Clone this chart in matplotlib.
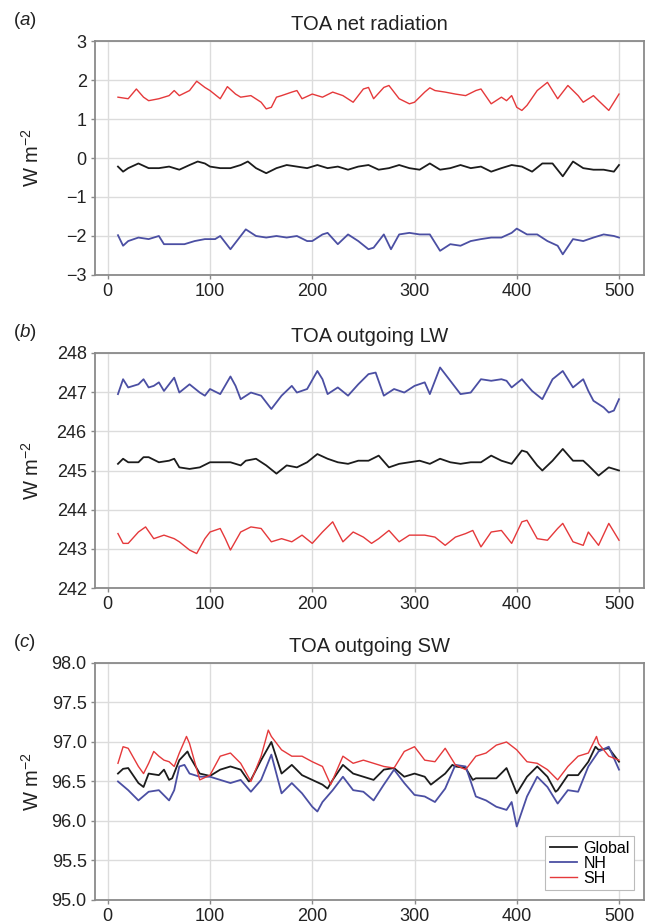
import numpy as np
import matplotlib
matplotlib.use('Agg')
import matplotlib.pyplot as plt

plt.rcParams['font.family'] = ['Liberation Sans', 'DejaVu Sans']
plt.rcParams['mathtext.fontset'] = 'custom'
plt.rcParams['mathtext.rm'] = 'Liberation Sans'
plt.rcParams['mathtext.it'] = 'Liberation Sans:italic'

# (a) TOA net radiation
netYrsGlobal = [10, 15, 20, 30, 40, 50, 60, 70, 80, 88, 95, 100, 110, 120, 130, 137, 145, 155, 165, 175,
                185, 195, 205, 215, 225, 235, 245, 255, 265, 275, 285, 295, 305, 315, 325, 335, 345, 355,
                365, 375, 385, 395, 405, 415, 425, 435, 445, 455, 465, 475, 485, 495, 500]
netGlobal = [-0.22, -0.35, -0.26, -0.14, -0.26, -0.26, -0.22, -0.30, -0.18, -0.09, -0.14, -0.22, -0.26,
             -0.26, -0.18, -0.09, -0.26, -0.39, -0.26, -0.18, -0.22, -0.26, -0.18, -0.26, -0.22, -0.30,
             -0.22, -0.18, -0.30, -0.26, -0.18, -0.26, -0.30, -0.14, -0.30, -0.26, -0.18, -0.26, -0.22,
             -0.35, -0.26, -0.18, -0.22, -0.35, -0.14, -0.14, -0.47, -0.09, -0.26, -0.30, -0.30, -0.35,
             -0.18]
netYrsNH = [10, 15, 20, 30, 40, 50, 55, 65, 75, 85, 95, 105, 110, 120, 125, 135, 145, 155, 165, 175, 185,
            195, 200, 210, 215, 225, 235, 245, 255, 260, 270, 277, 285, 295, 305, 315, 325, 335, 345, 355,
            365, 375, 385, 395, 400, 410, 420, 430, 440, 445, 455, 465, 475, 485, 495, 500]
netNH = [-1.98, -2.25, -2.13, -2.04, -2.08, -2.00, -2.21, -2.21, -2.21, -2.13, -2.08, -2.08, -2.00, -2.34,
         -2.17, -1.83, -2.00, -2.04, -2.00, -2.04, -2.00, -2.13, -2.13, -1.96, -1.92, -2.21, -1.96, -2.13,
         -2.34, -2.30, -1.96, -2.34, -1.96, -1.92, -1.96, -1.96, -2.38, -2.21, -2.25, -2.13, -2.08, -2.04,
         -2.04, -1.92, -1.81, -1.96, -1.96, -2.13, -2.25, -2.47, -2.08, -2.13, -2.04, -1.96, -2.00, -2.04]
netYrsSH = [10, 20, 28, 35, 40, 50, 60, 65, 70, 80, 87, 95, 100, 110, 117, 125, 130, 140, 150, 155, 160,
            165, 170, 180, 185, 190, 200, 210, 220, 230, 240, 250, 255, 260, 270, 275, 285, 295, 300, 310,
            315, 320, 330, 340, 350, 360, 365, 375, 385, 390, 395, 400, 405, 410, 420, 430, 440, 450, 460,
            465, 475, 480, 490, 500]
netSH = [1.56, 1.52, 1.77, 1.56, 1.47, 1.52, 1.60, 1.73, 1.60, 1.73, 1.97, 1.81, 1.73, 1.52, 1.83, 1.64,
         1.56, 1.60, 1.43, 1.26, 1.30, 1.56, 1.60, 1.69, 1.73, 1.52, 1.64, 1.56, 1.69, 1.60, 1.43, 1.77,
         1.81, 1.52, 1.81, 1.86, 1.52, 1.39, 1.43, 1.69, 1.80, 1.73, 1.69, 1.64, 1.60, 1.73, 1.77, 1.39,
         1.56, 1.47, 1.60, 1.30, 1.22, 1.35, 1.73, 1.94, 1.52, 1.86, 1.60, 1.43, 1.60, 1.47, 1.22, 1.64]

# (b) TOA outgoing LW
lwYrsGlobal = [10, 15, 20, 30, 35, 40, 50, 60, 65, 70, 80, 90, 100, 110, 120, 130, 135, 145, 155, 165, 175,
               185, 195, 205, 215, 225, 235, 245, 255, 265, 275, 285, 295, 305, 315, 325, 335, 345, 355,
               365, 375, 385, 395, 405, 410, 420, 425, 435, 445, 455, 465, 470, 480, 490, 500]
lwGlobal = [245.17, 245.30, 245.21, 245.21, 245.34, 245.34, 245.21, 245.25, 245.30, 245.08, 245.04, 245.08,
            245.21, 245.21, 245.21, 245.13, 245.25, 245.30, 245.13, 244.92, 245.13, 245.08, 245.21, 245.42,
            245.30, 245.21, 245.17, 245.25, 245.25, 245.38, 245.08, 245.17, 245.21, 245.25, 245.17, 245.30,
            245.21, 245.17, 245.21, 245.21, 245.38, 245.25, 245.17, 245.51, 245.47, 245.13, 245.00, 245.25,
            245.55, 245.25, 245.25, 245.13, 244.87, 245.08, 245.00]
lwYrsNH = [10, 15, 20, 30, 35, 40, 45, 50, 55, 65, 70, 80, 90, 95, 100, 110, 120, 125, 130, 140, 150, 160,
           170, 180, 185, 195, 205, 210, 215, 225, 235, 245, 255, 262, 270, 280, 290, 300, 310, 315, 325,
           335, 345, 355, 365, 375, 385, 390, 395, 405, 415, 425, 435, 445, 455, 465, 470, 475, 485, 490,
           495, 500]
lwNH = [246.95, 247.33, 247.12, 247.20, 247.33, 247.12, 247.16, 247.25, 247.03, 247.37, 246.99, 247.20,
        246.99, 246.91, 247.08, 246.95, 247.40, 247.16, 246.82, 246.99, 246.91, 246.57, 246.91, 247.16,
        246.99, 247.08, 247.54, 247.33, 246.95, 247.12, 246.91, 247.20, 247.46, 247.50, 246.91, 247.08,
        246.99, 247.16, 247.25, 246.95, 247.63, 247.29, 246.95, 246.99, 247.33, 247.29, 247.33, 247.29,
        247.12, 247.33, 247.03, 246.82, 247.33, 247.54, 247.12, 247.33, 247.03, 246.78, 246.61, 246.48,
        246.53, 246.82]
lwYrsSH = [10, 15, 20, 30, 37, 45, 55, 65, 70, 80, 87, 95, 100, 110, 115, 120, 130, 140, 150, 160, 170,
           180, 190, 200, 210, 220, 230, 240, 250, 258, 265, 275, 285, 295, 310, 320, 330, 340, 350, 357,
           365, 375, 385, 395, 405, 410, 420, 430, 440, 445, 455, 465, 470, 480, 490, 500]
lwSH = [243.39, 243.14, 243.14, 243.43, 243.56, 243.26, 243.35, 243.26, 243.18, 242.97, 242.88, 243.26,
        243.43, 243.52, 243.26, 242.97, 243.43, 243.56, 243.52, 243.18, 243.26, 243.18, 243.35, 243.14,
        243.43, 243.69, 243.18, 243.43, 243.30, 243.14, 243.26, 243.47, 243.18, 243.35, 243.35, 243.30,
        243.09, 243.30, 243.39, 243.47, 243.05, 243.43, 243.47, 243.14, 243.69, 243.73, 243.26, 243.22,
        243.52, 243.65, 243.18, 243.09, 243.43, 243.09, 243.65, 243.22]

# (c) TOA outgoing SW
swYrsGlobal = [10, 15, 20, 30, 35, 40, 50, 55, 60, 63, 70, 78, 80, 90, 100, 110, 120, 130, 138, 140, 150,
               160, 170, 180, 190, 200, 210, 215, 220, 230, 240, 250, 260, 270, 280, 290, 300, 310, 316,
               320, 330, 337, 340, 350, 357, 360, 370, 380, 390, 400, 410, 420, 430, 438, 440, 450, 460,
               470, 477, 480, 490, 500]
swGlobal = [96.60, 96.66, 96.67, 96.48, 96.43, 96.60, 96.58, 96.65, 96.52, 96.54, 96.77, 96.88, 96.82,
            96.60, 96.57, 96.65, 96.69, 96.65, 96.50, 96.52, 96.77, 97.00, 96.60, 96.71, 96.58, 96.52,
            96.46, 96.41, 96.52, 96.71, 96.60, 96.56, 96.52, 96.65, 96.67, 96.56, 96.60, 96.56, 96.46,
            96.50, 96.60, 96.71, 96.69, 96.67, 96.52, 96.54, 96.54, 96.54, 96.67, 96.35, 96.56, 96.69,
            96.56, 96.37, 96.39, 96.58, 96.58, 96.75, 96.94, 96.90, 96.92, 96.75]
swYrsNH = [10, 20, 30, 40, 50, 60, 65, 70, 75, 80, 90, 100, 110, 120, 130, 140, 150, 160, 170, 180, 190,
           200, 205, 210, 220, 230, 240, 250, 260, 270, 280, 290, 300, 310, 320, 330, 340, 350, 360, 370,
           380, 390, 395, 400, 410, 420, 430, 440, 450, 460, 470, 480, 490, 500]
swNH = [96.50, 96.39, 96.26, 96.37, 96.39, 96.26, 96.39, 96.69, 96.71, 96.60, 96.56, 96.56, 96.52, 96.48,
        96.52, 96.37, 96.52, 96.84, 96.35, 96.48, 96.35, 96.18, 96.12, 96.24, 96.39, 96.56, 96.39, 96.37,
        96.26, 96.46, 96.65, 96.48, 96.33, 96.31, 96.24, 96.41, 96.71, 96.69, 96.31, 96.26, 96.18, 96.14,
        96.24, 95.93, 96.31, 96.56, 96.43, 96.22, 96.39, 96.37, 96.69, 96.88, 96.94, 96.65]
swYrsSH = [10, 15, 20, 30, 35, 40, 45, 50, 55, 60, 65, 70, 77, 80, 90, 100, 110, 120, 130, 140, 150, 157,
           160, 170, 180, 190, 200, 210, 218, 220, 230, 240, 250, 260, 270, 280, 290, 300, 310, 320, 330,
           340, 350, 360, 370, 380, 390, 400, 410, 420, 430, 440, 450, 460, 470, 478, 480, 490, 500]
swSH = [96.73, 96.94, 96.92, 96.69, 96.60, 96.73, 96.88, 96.82, 96.77, 96.75, 96.69, 96.86, 97.07, 96.98,
        96.52, 96.58, 96.82, 96.86, 96.73, 96.50, 96.82, 97.15, 97.07, 96.90, 96.82, 96.82, 96.75, 96.69,
        96.46, 96.52, 96.82, 96.73, 96.77, 96.73, 96.69, 96.67, 96.88, 96.94, 96.77, 96.75, 96.92, 96.71,
        96.65, 96.82, 96.86, 96.96, 97.00, 96.90, 96.75, 96.73, 96.65, 96.52, 96.69, 96.82, 96.86, 97.07,
        96.98, 96.82, 96.77]

colGlobal = '#1c1c1c'
colNH = '#4b4fa3'
colSH = '#e5393b'
gridCol = '#dcdcdc'
spineCol = '#8a8a8a'

panels = [
    ('(a)', 'TOA net radiation', (-3, 3), [-3, -2, -1, 0, 1, 2, 3], '%d',
     (netYrsGlobal, netGlobal), (netYrsNH, netNH), (netYrsSH, netSH)),
    ('(b)', 'TOA outgoing LW', (242, 248), [242, 243, 244, 245, 246, 247, 248], '%d',
     (lwYrsGlobal, lwGlobal), (lwYrsNH, lwNH), (lwYrsSH, lwSH)),
    ('(c)', 'TOA outgoing SW', (95, 98), [95.0, 95.5, 96.0, 96.5, 97.0, 97.5, 98.0], '%.1f',
     (swYrsGlobal, swGlobal), (swYrsNH, swNH), (swYrsSH, swSH)),
]
# axes boxes in figure fraction [left, bottom, width, height]
boxes = [[0.147, 0.7024, 0.850, 0.2532],
         [0.147, 0.3636, 0.850, 0.2544],
         [0.147, 0.0260, 0.850, 0.2565]]

fig = plt.figure(figsize=(6.46, 9.24), dpi=100)

for i, p in enumerate(panels):
    letter, title, ylim, yticks, fmt, g, nh, sh = p
    ax = fig.add_axes(boxes[i])
    ax.plot(g[0], g[1], color=colGlobal, lw=1.3, label='Global', zorder=3)
    ax.plot(nh[0], nh[1], color=colNH, lw=1.3, label='NH', zorder=3)
    ax.plot(sh[0], sh[1], color=colSH, lw=1.0, label='SH', zorder=3)
    ax.set_xlim(-12.5, 524.5)
    ax.set_ylim(ylim)
    ax.set_xticks([0, 100, 200, 300, 400, 500])
    ax.set_yticks(yticks)
    ax.set_yticklabels([(fmt % v).replace('-', '\u2212') for v in yticks])
    ax.grid(True, color=gridCol, lw=1.0, zorder=0)
    ax.set_axisbelow(True)
    for s in ax.spines.values():
        s.set_color(spineCol)
        s.set_linewidth(1.3)
    ax.tick_params(direction='out', length=3, width=1, color=spineCol,
                   labelsize=13, labelcolor='#222222', pad=3)
    ax.set_title(title, fontsize=14.5, pad=8, color='#222222')
    ax.set_ylabel(r'W m$^{-2}$', fontsize=14.5, color='#222222')
    ax.yaxis.set_label_coords(-0.095, 0.5)
    top = boxes[i][1] + boxes[i][3]
    fig.text(0.02, top + 0.022, '(' + r'$\it{' + letter[1] + '}$' + ')', fontsize=13.5,
             va='center', ha='left', color='#222222')
    if i == 2:
        leg = ax.legend(loc='lower right', fontsize=11.5, labelspacing=0.0, handlelength=1.7,
                        handletextpad=0.4, borderpad=0.3, borderaxespad=0.6, fancybox=False,
                        framealpha=1.0, edgecolor='#bbbbbb')
        leg.get_frame().set_linewidth(0.8)

plt.savefig('out.png', dpi=100)
